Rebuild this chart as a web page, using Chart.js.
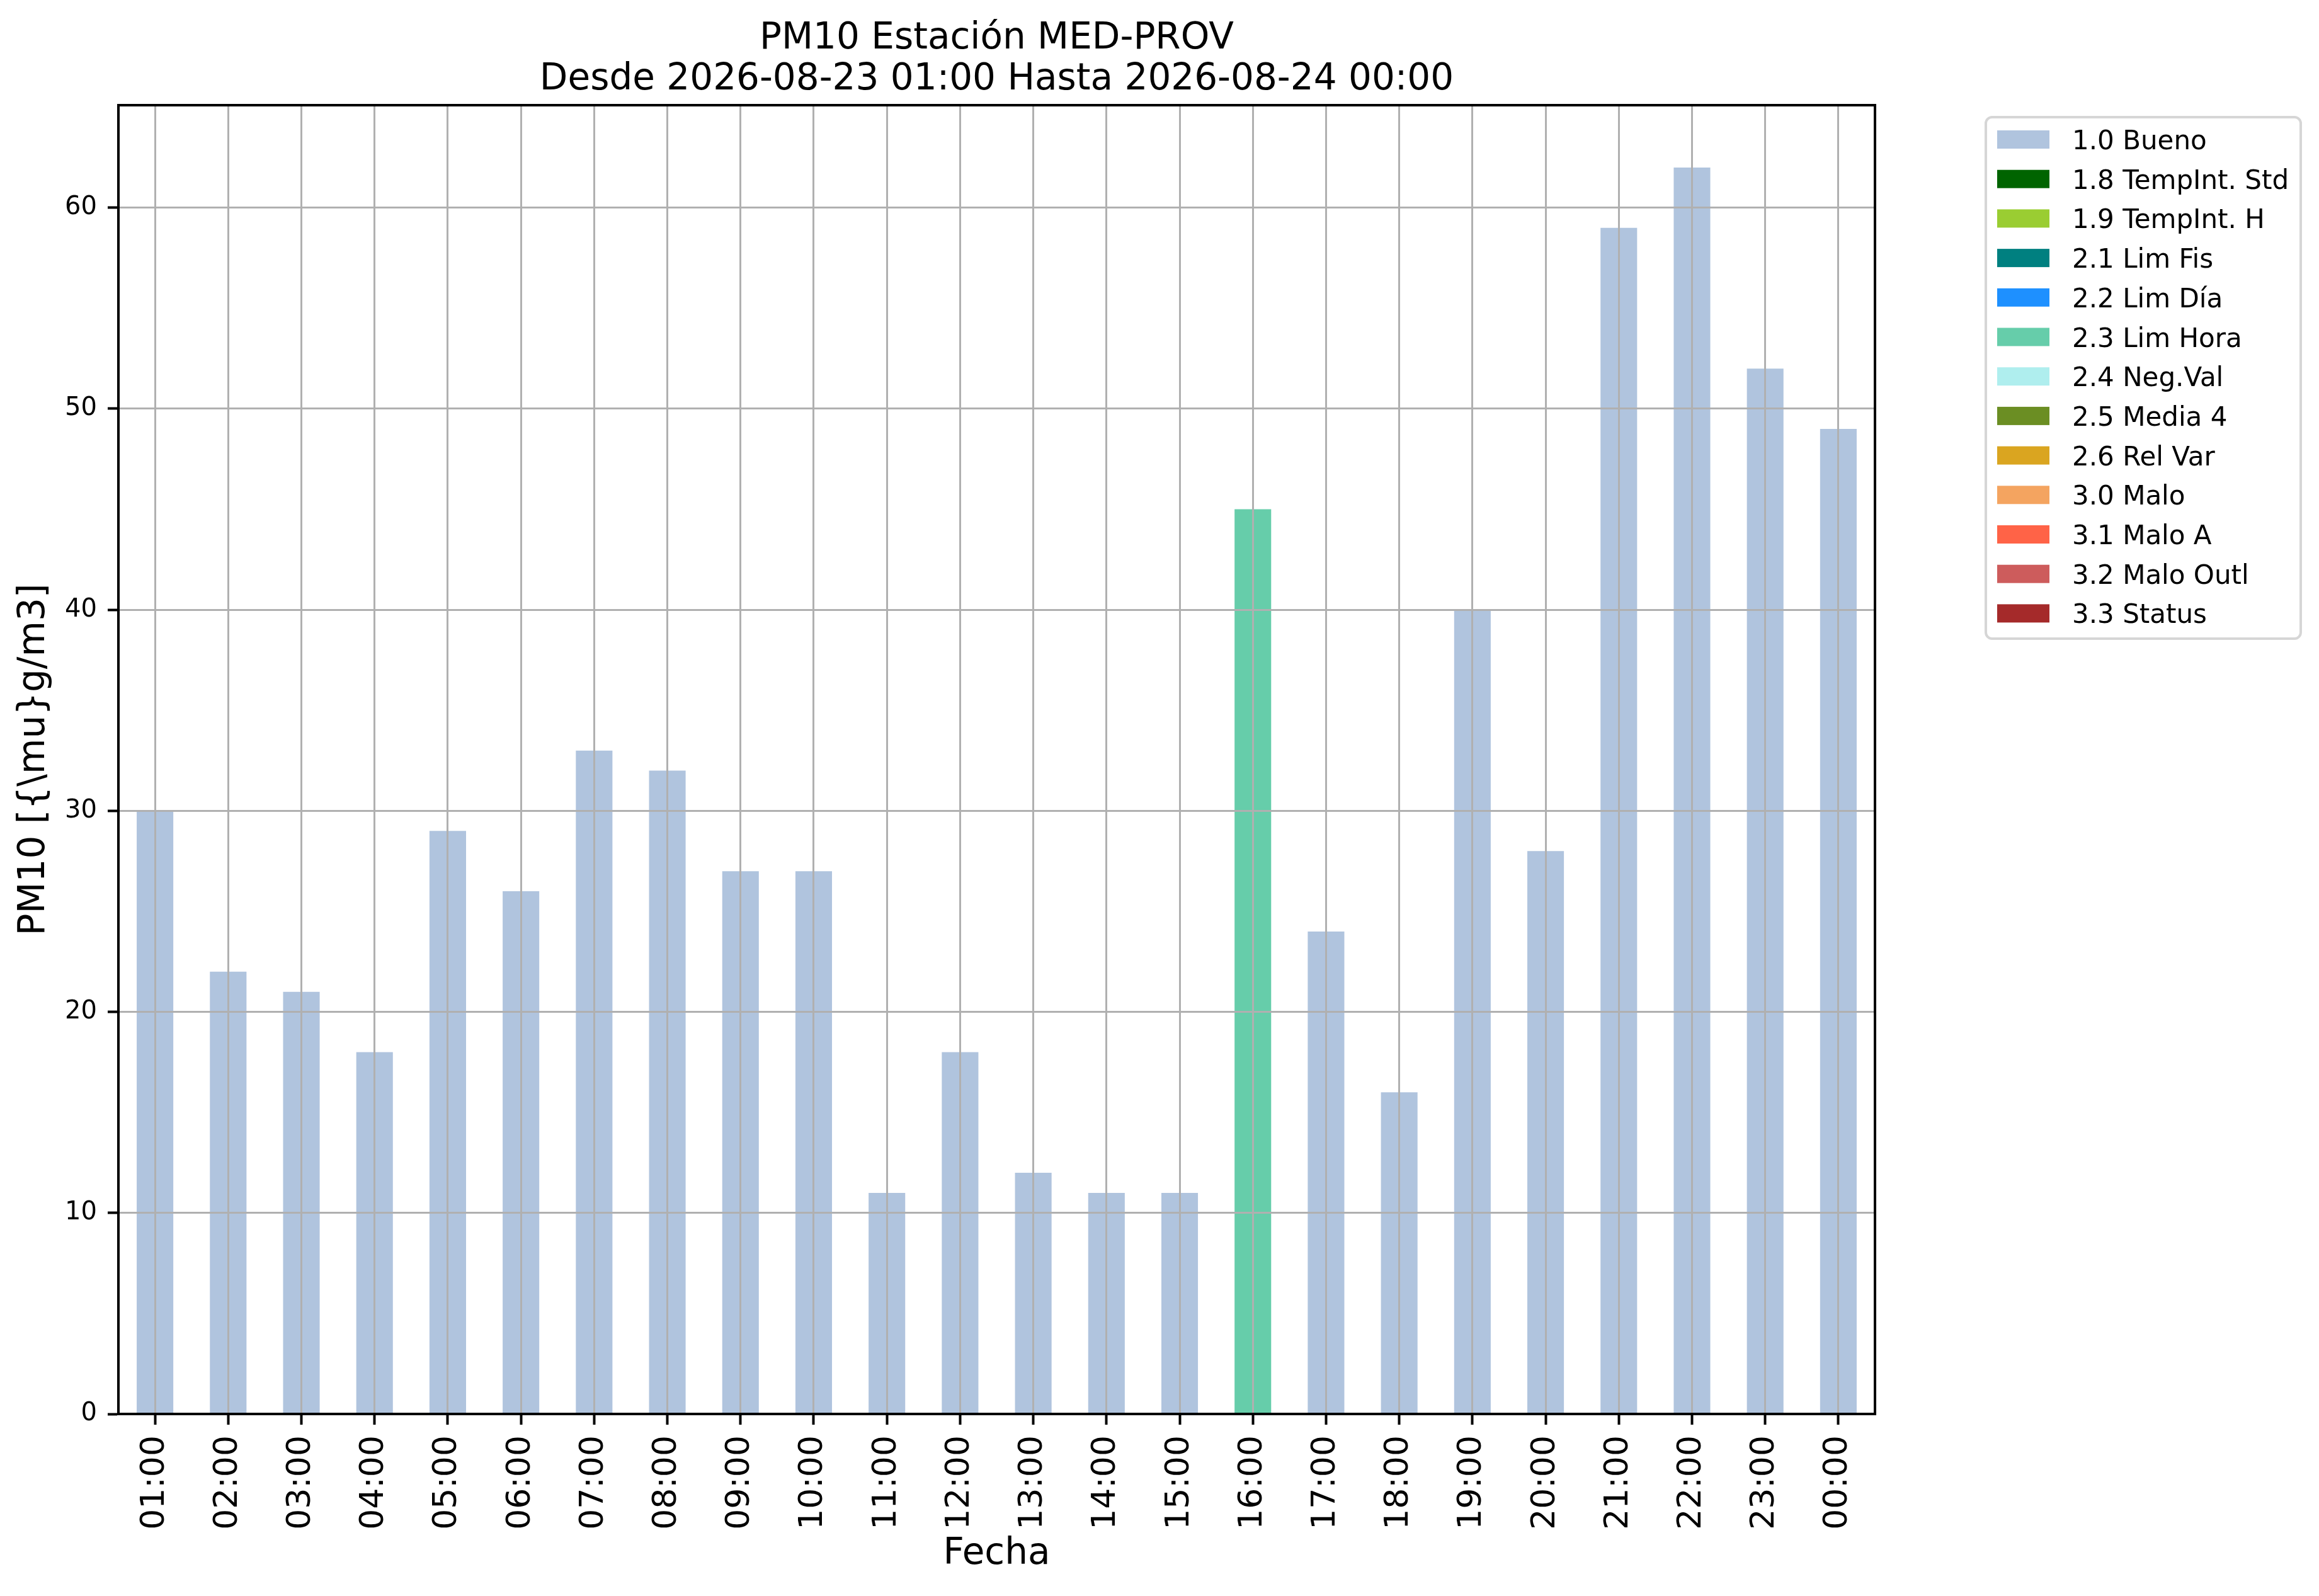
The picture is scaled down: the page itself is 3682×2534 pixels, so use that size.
<!DOCTYPE html>
<html>
<head>
<meta charset="utf-8">
<title>PM10 Estación MED-PROV</title>
<script src="https://cdn.jsdelivr.net/npm/chart.js@4.4.0/dist/chart.umd.min.js"></script>
<style>
  html, body { margin: 0; padding: 0; background: #fff; }
  #chart { display: block; }
</style>
</head>
<body>
<canvas id="chart" width="3682" height="2534"></canvas>
<script>
// datos
const horas = ['01:00', '02:00', '03:00', '04:00', '05:00', '06:00', '07:00', '08:00',
  '09:00', '10:00', '11:00', '12:00', '13:00', '14:00', '15:00', '16:00',
  '17:00', '18:00', '19:00', '20:00', '21:00', '22:00', '23:00', '00:00'];
const valores = [30, 22, 21, 18, 29, 26, 33, 32, 27, 27, 11, 18, 12, 11, 11, 45,
  24, 16, 40, 28, 59, 62, 52, 49];
const banderas = ['1.0', '1.0', '1.0', '1.0', '1.0', '1.0', '1.0', '1.0', '1.0', '1.0', '1.0', '1.0',
  '1.0', '1.0', '1.0', '2.3', '1.0', '1.0', '1.0', '1.0', '1.0', '1.0', '1.0', '1.0'];
const codigos = ['1.0', '1.8', '1.9', '2.1', '2.2', '2.3', '2.4', '2.5', '2.6', '3.0', '3.1', '3.2', '3.3'];
const nombres = ['1.0 Bueno', '1.8 TempInt. Std', '1.9 TempInt. H', '2.1 Lim Fis', '2.2 Lim Día',
  '2.3 Lim Hora', '2.4 Neg.Val', '2.5 Media 4', '2.6 Rel Var', '3.0 Malo', '3.1 Malo A',
  '3.2 Malo Outl', '3.3 Status'];
const colores = ['#b0c4de', '#006400', '#9acd32', '#008080', '#1e90ff', '#66cdaa', '#afeeee',
  '#6b8e23', '#daa520', '#f4a460', '#ff6347', '#cd5c5c', '#a52a2a'];
const yTicks = [0, 10, 20, 30, 40, 50, 60];

const FONT = 'DejaVu Sans';
const W = 3682, H = 2534;
const area = { left: 188, right: 2977, top: 167, bottom: 2245 };

let datasets = codigos.map(function(c, i) {
  return {
    label: nombres[i],
    data: valores.map(function(v, j) { return banderas[j] === c ? v : null; }),
    backgroundColor: colores[i],
    borderWidth: 0,
    barPercentage: 0.5,
    categoryPercentage: 1.0
  };
});

// titulo, marco y leyenda dibujados a mano
const extras = {
  id: 'extras',
  afterDraw: function(chart) {
    let ctx = chart.ctx;
    let ca = chart.chartArea;
    ctx.save();

    // marco completo
    ctx.strokeStyle = '#000';
    ctx.lineWidth = 4;
    ctx.strokeRect(ca.left, ca.top, ca.right - ca.left, ca.bottom - ca.top);

    // titulo
    ctx.fillStyle = '#000';
    ctx.font = '58px "' + FONT + '"';
    ctx.textAlign = 'center';
    ctx.textBaseline = 'alphabetic';
    let cx = (ca.left + ca.right) / 2;
    ctx.fillText('PM10 Estación MED-PROV', cx, 77);
    ctx.fillText('Desde 2026-08-23 01:00 Hasta 2026-08-24 00:00', cx, 142);

    // leyenda
    let lx = 3153, ly = 186, lw = 500, lh = 828;
    ctx.beginPath();
    ctx.roundRect(lx, ly, lw, lh, 10);
    ctx.fillStyle = 'rgba(255,255,255,0.8)';
    ctx.fill();
    ctx.strokeStyle = '#d6d6d6';
    ctx.lineWidth = 4;
    ctx.stroke();

    ctx.font = '42px "' + FONT + '"';
    ctx.textAlign = 'left';
    chart.data.datasets.forEach(function(ds, i) {
      let y = 207 + i * 62.7;
      ctx.fillStyle = ds.backgroundColor;
      ctx.fillRect(3171, y, 83, 29);
      ctx.fillStyle = '#000';
      ctx.fillText(ds.label, 3290, y + 30);
    });
    ctx.restore();
  }
};

new Chart(document.getElementById('chart'), {
  type: 'bar',
  data: { labels: horas, datasets: datasets },
  plugins: [extras],
  options: {
    responsive: false,
    animation: false,
    devicePixelRatio: 1,
    layout: { padding: { top: area.top, right: W - area.right, left: 0, bottom: 0 } },
    plugins: {
      legend: { display: false },
      title: { display: false },
      tooltip: { enabled: false }
    },
    scales: {
      x: {
        stacked: true,
        offset: true,
        grid: { z: 1, offset: false, color: '#b0b0b0', lineWidth: 3, tickColor: '#000', tickWidth: 4, tickLength: 17 },
        border: { z: 2, color: '#000', width: 4 },
        ticks: {
          autoSkip: false, minRotation: 90, maxRotation: 90, padding: 17,
          color: '#000', font: { family: FONT, size: 52 }
        },
        title: { display: true, text: 'Fecha', color: '#000', font: { family: FONT, size: 58 }, padding: { top: 0, bottom: 31 } },
        afterFit: function(scale) { scale.height = H - area.bottom; }
      },
      y: {
        stacked: true,
        min: 0,
        max: 65.1,
        grid: { z: 1, color: '#b0b0b0', lineWidth: 3, tickColor: '#000', tickWidth: 4, tickLength: 17 },
        border: { z: 2, color: '#000', width: 4 },
        afterBuildTicks: function(scale) { scale.ticks = yTicks.map(function(v) { return { value: v }; }); },
        ticks: { padding: 17, color: '#000', font: { family: FONT, size: 40 } },
        title: { display: true, text: 'PM10 [{\\mu}g/m3]', color: '#000', font: { family: FONT, size: 58 }, padding: { top: 20, bottom: 0 } },
        afterFit: function(scale) { scale.width = area.left; }
      }
    }
  }
});
</script>
</body>
</html>
